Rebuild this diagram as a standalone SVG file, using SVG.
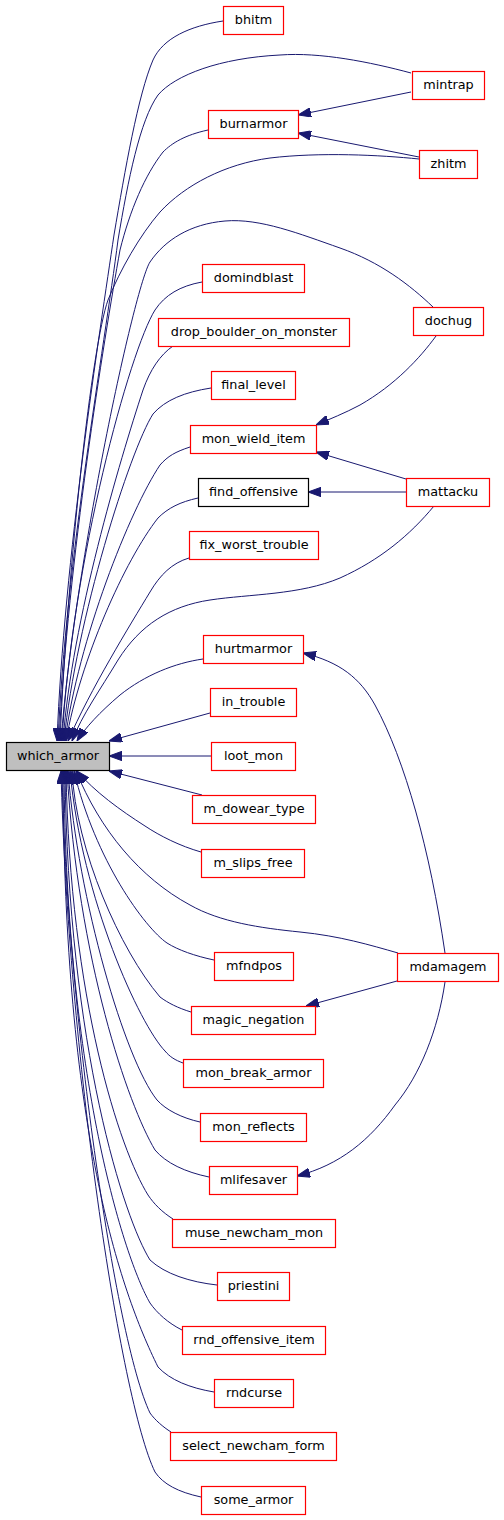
<svg xmlns="http://www.w3.org/2000/svg" width="504" height="1520" viewBox="0 0 504 1520">
<defs>
<style>
.n rect{fill:#ffffff;stroke:#ff0000;stroke-width:1.2}
.n.root rect{fill:#bfbfbf;stroke:#000000}
.n.blk rect{stroke:#000000}
.n text{font-family:"DejaVu Sans",sans-serif;font-size:12.8px;fill:#000000;text-anchor:middle}
.e path{fill:none;stroke:#191970;stroke-width:1;marker-end:url(#ah)}
</style>
<marker id="ah" markerUnits="userSpaceOnUse" viewBox="0 0 13 9.4" markerWidth="13" markerHeight="9.4" refX="13" refY="4.7" orient="auto">
<path d="M0,0 L13,4.7 L0,9.4 z" fill="#191970" stroke="#191970" stroke-width="1"/>
</marker>
</defs>
<rect width="504" height="1520" fill="#ffffff"/>
<g id="edges" class="e">
<path d="M223,21 C190,26 163,38 153,60 C138,95 125,170 114,235 C100,330 64,560 57,741"/>
<path d="M411,73 C370,62 320,52 280,55 C220,58 175,75 158,95 C140,120 128,180 118,240 C104,350 66,560 58,741"/>
<path d="M208,130 C185,135 172,143 163,152 C145,175 130,210 120,250 C104,340 68,560 59,741"/>
<path d="M419,159 C380,155 320,152 270,158 C225,164 185,185 160,212 C140,235 120,270 108,300 C92,345 68,560 60,741"/>
<path d="M433,307 C410,285 380,262 340,248 C300,234 260,218 225,221 C190,224 165,240 150,262 C135,285 75,560 61,741"/>
<path d="M202,282 C180,286 165,295 155,310 C130,350 72,560 62,741"/>
<path d="M173,346 C160,355 150,370 143,390 C120,460 72,620 63,741"/>
<path d="M211,388 C185,392 165,400 153,414 C130,450 76,620 64,741"/>
<path d="M190,447 C175,452 168,456 160,465 C130,510 78,640 65,741"/>
<path d="M198,498 C180,502 168,508 158,518 C125,560 80,660 66,741"/>
<path d="M189,558 C172,563 160,575 150,592 C130,625 90,690 68,741"/>
<path d="M434,506 C410,535 380,560 340,578 C300,595 250,594 210,600 C170,606 140,625 118,660 C100,690 82,715 72,741"/>
<path d="M203,659 C175,663 145,675 120,695 C100,712 85,728 77,741"/>
<path d="M210,713 L109,741"/>
<path d="M211,756 L109,756"/>
<path d="M202,795 L109,771"/>
<path d="M201,852 C180,846 160,836 145,826 C120,810 95,792 77,771"/>
<path d="M398,953 C370,945 340,936 300,932 C260,928 220,922 190,905 C140,878 100,830 76,771"/>
<path d="M214,960 C195,956 178,950 167,943 C145,928 95,860 74,771"/>
<path d="M191,1012 C178,1008 168,1003 160,997 C120,950 76,850 72,771"/>
<path d="M183,1063 C175,1060 170,1057 165,1051 C140,1025 82,900 70,771"/>
<path d="M200,1122 C182,1118 166,1110 157,1100 C125,1060 78,900 68,771"/>
<path d="M209,1177 C185,1172 166,1163 155,1150 C128,1105 78,960 67,771"/>
<path d="M173,1219 C162,1212 154,1204 148,1195 C120,1150 70,1000 66,771"/>
<path d="M217,1285 C190,1282 165,1274 150,1260 C125,1220 68,1050 65,771"/>
<path d="M182,1330 C168,1323 157,1313 150,1303 C125,1260 66,1080 64,771"/>
<path d="M214,1392 C190,1388 170,1380 158,1367 C120,1290 64,1130 63,771"/>
<path d="M171,1432 C163,1427 155,1420 150,1413 C115,1340 66,1000 62,771"/>
<path d="M201,1497 C178,1492 163,1484 155,1472 C120,1400 68,1050 61,771"/>
<path d="M411,92 L298,115"/>
<path d="M419,157 L298,133"/>
<path d="M436,336 C420,358 395,385 360,405 C345,413 330,419 316,425"/>
<path d="M406,479 L316,452"/>
<path d="M406,492 L308,492"/>
<path d="M445,953 C430,850 405,760 375,705 C360,678 340,662 303,653"/>
<path d="M397,981 L306,1006"/>
<path d="M445,982 C438,1030 420,1075 395,1105 C370,1140 340,1165 297,1176"/>
</g>
<g id="which_armor" class="n root"><rect x="6.5" y="742.5" width="103" height="28"/><text x="58" y="760">which_armor</text></g>
<g id="bhitm" class="n"><rect x="223.5" y="6.5" width="60" height="28"/><text x="253.5" y="24">bhitm</text></g>
<g id="mintrap" class="n"><rect x="412.5" y="71.5" width="72" height="28"/><text x="448.5" y="89">mintrap</text></g>
<g id="burnarmor" class="n"><rect x="208.5" y="110.5" width="90" height="28"/><text x="253.5" y="128">burnarmor</text></g>
<g id="zhitm" class="n"><rect x="419.5" y="150.5" width="58" height="28"/><text x="448.5" y="168">zhitm</text></g>
<g id="domindblast" class="n"><rect x="202.5" y="264.5" width="102" height="28"/><text x="253.5" y="282">domindblast</text></g>
<g id="dochug" class="n"><rect x="413.5" y="307.5" width="70" height="28"/><text x="448.5" y="325">dochug</text></g>
<g id="drop_boulder_on_monster" class="n"><rect x="158.5" y="318.5" width="191" height="28"/><text x="254" y="336">drop_boulder_on_monster</text></g>
<g id="final_level" class="n"><rect x="211.5" y="371.5" width="84" height="28"/><text x="253.5" y="389">final_level</text></g>
<g id="mon_wield_item" class="n"><rect x="190.5" y="425.5" width="126" height="28"/><text x="253.5" y="443">mon_wield_item</text></g>
<g id="find_offensive" class="n blk"><rect x="198.5" y="478.5" width="110" height="28"/><text x="253.5" y="496">find_offensive</text></g>
<g id="mattacku" class="n"><rect x="406.5" y="478.5" width="83" height="28"/><text x="448" y="496">mattacku</text></g>
<g id="fix_worst_trouble" class="n"><rect x="189.5" y="531.5" width="129" height="28"/><text x="254" y="549">fix_worst_trouble</text></g>
<g id="hurtmarmor" class="n"><rect x="203.5" y="635.5" width="100" height="28"/><text x="253.5" y="653">hurtmarmor</text></g>
<g id="in_trouble" class="n"><rect x="210.5" y="688.5" width="86" height="28"/><text x="253.5" y="706">in_trouble</text></g>
<g id="loot_mon" class="n"><rect x="211.5" y="742.5" width="84" height="28"/><text x="253.5" y="760">loot_mon</text></g>
<g id="m_dowear_type" class="n"><rect x="192.5" y="795.5" width="123" height="28"/><text x="254" y="813">m_dowear_type</text></g>
<g id="m_slips_free" class="n"><rect x="201.5" y="849.5" width="103" height="28"/><text x="253" y="867">m_slips_free</text></g>
<g id="mfndpos" class="n"><rect x="214.5" y="952.5" width="79" height="28"/><text x="254" y="970">mfndpos</text></g>
<g id="mdamagem" class="n"><rect x="397.5" y="953.5" width="101" height="28"/><text x="448" y="971">mdamagem</text></g>
<g id="magic_negation" class="n"><rect x="191.5" y="1006.5" width="124" height="28"/><text x="253.5" y="1024">magic_negation</text></g>
<g id="mon_break_armor" class="n"><rect x="183.5" y="1059.5" width="140" height="28"/><text x="253.5" y="1077">mon_break_armor</text></g>
<g id="mon_reflects" class="n"><rect x="200.5" y="1113.5" width="106" height="28"/><text x="253.5" y="1131">mon_reflects</text></g>
<g id="mlifesaver" class="n"><rect x="209.5" y="1166.5" width="88" height="28"/><text x="253.5" y="1184">mlifesaver</text></g>
<g id="muse_newcham_mon" class="n"><rect x="172.5" y="1219.5" width="163" height="28"/><text x="254" y="1237">muse_newcham_mon</text></g>
<g id="priestini" class="n"><rect x="217.5" y="1272.5" width="72" height="28"/><text x="253.5" y="1290">priestini</text></g>
<g id="rnd_offensive_item" class="n"><rect x="182.5" y="1326.5" width="143" height="28"/><text x="254" y="1344">rnd_offensive_item</text></g>
<g id="rndcurse" class="n"><rect x="214.5" y="1379.5" width="79" height="28"/><text x="254" y="1397">rndcurse</text></g>
<g id="select_newcham_form" class="n"><rect x="170.5" y="1432.5" width="166" height="28"/><text x="253.5" y="1450">select_newcham_form</text></g>
<g id="some_armor" class="n"><rect x="201.5" y="1486.5" width="104" height="28"/><text x="253.5" y="1504">some_armor</text></g>
</svg>
